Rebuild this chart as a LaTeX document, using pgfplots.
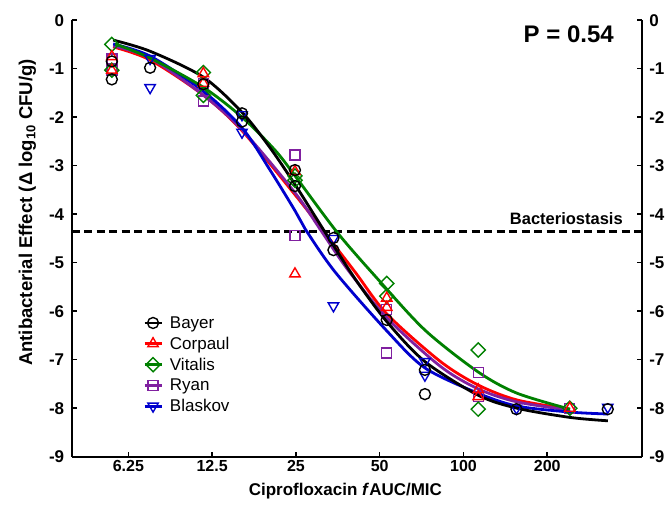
\documentclass[border=0pt]{standalone}
\usepackage{fontspec}
\setmainfont{Liberation Sans}
\usepackage{pgfplots}
\pgfplotsset{compat=1.18}
\definecolor{cRed}{RGB}{255,0,0}
\definecolor{cGreen}{RGB}{0,128,0}
\definecolor{cPurple}{RGB}{128,32,160}
\definecolor{cBlue}{RGB}{0,0,205}

\begin{document}
\begin{tikzpicture}
\begin{axis}[scale only axis, width=570pt, height=436.5pt,
  xmode=log, log basis x=2, xmin=3.91, xmax=437, ymin=-9, ymax=0,
  axis line style={line width=1.8pt},
  tick style={line width=1.5pt, black},
  major tick length=5pt, tick align=inside,
  ytick={-9,-8,-7,-6,-5,-4,-3,-2,-1,0},
  yticklabels={-9,-8,-7,-6,-5,-4,-3,-2,-1,0},
  xticklabel style={font=\bfseries\fontsize{16}{18}\selectfont},
  yticklabel style={font=\bfseries\fontsize{17}{19}\selectfont, xshift=-4pt},
  axis x line*=bottom, axis y line*=left,
  xtick={6.25,12.5,25,50,100,200},
  xticklabels={6.25,12.5,25,50,100,200},
  minor xtick={},
  legend style={at={(0.125,0.3265)}, anchor=north west, draw=none, fill=none,
    font=\fontsize{17}{20}\selectfont, row sep=3.2pt, inner sep=0pt,
    /tikz/every odd column/.append style={column sep=5pt}},
  legend cell align=left,
  legend image code/.code={\draw[mark repeat=2,mark phase=2,#1]
    plot coordinates {(0pt,0pt) (8.5pt,0pt) (17pt,0pt)};},
]
% bacteriostasis
\addplot[black, line width=2.6pt, dash pattern=on 8pt off 4.5pt, forget plot]
  coordinates {(3.91,-4.36) (437,-4.36)};

% fitted curves
\addplot[cRed, line width=2.8pt, smooth, forget plot] coordinates {
  (5.51,-0.55) (7.48,-0.82) (11.59,-1.54) (16.01,-2.28) (24.82,-3.60) (31.81,-4.39)
  (40.76,-5.19) (53.11,-6.06) (82.33,-7.03) (112.7,-7.52) (155.6,-7.83) (241.4,-8.02)};
\addplot[cPurple, line width=2.8pt, smooth, forget plot] coordinates {
  (5.51,-0.53) (7.48,-0.78) (11.59,-1.54) (16.01,-2.26) (24.82,-3.56) (31.03,-4.37)
  (38.47,-5.15) (53.11,-6.14) (82.33,-7.13) (112.7,-7.60) (155.6,-7.87) (241.4,-8.04)};
\addplot[cBlue, line width=2.8pt, smooth, forget plot] coordinates {
  (5.51,-0.49) (7.48,-0.74) (11.59,-1.46) (16.01,-2.22) (20.18,-3.09) (24.82,-3.93)
  (26.96,-4.30) (34.55,-5.19) (53.11,-6.41) (72.73,-7.17) (112.7,-7.69) (155.6,-7.955)
  (241.4,-8.08) (330.4,-8.12)};
\addplot[cGreen, line width=2.8pt, smooth, forget plot] coordinates {
  (5.60,-0.49) (7.48,-0.78) (11.59,-1.38) (16.01,-2.00) (21.03,-2.68) (24.82,-3.21)
  (35.12,-4.37) (48.90,-5.32) (72.73,-6.39) (112.7,-7.25) (155.6,-7.69) (241.4,-8.02)};
\addplot[black, line width=2.8pt, smooth, forget plot] coordinates {
  (5.51,-0.41) (7.48,-0.64) (11.59,-1.17) (16.01,-1.90) (20.18,-2.63) (24.82,-3.39)
  (31.81,-4.37) (40.76,-5.33) (53.11,-6.22) (72.73,-7.04) (112.7,-7.73) (155.6,-8.00)
  (241.4,-8.19) (330.4,-8.26)};

% observations
\addplot[only marks, line width=1.4pt, cPurple, mark=square, mark size=5pt, forget plot] coordinates {
  (5.45,-0.80) (5.45,-1.03) (11.62,-1.30) (11.62,-1.67) (24.8,-2.78) (24.8,-4.44)
  (53,-5.96) (53,-6.86) (113,-7.27) (113,-7.76) (241,-8.00)};
\addplot[only marks, line width=1.4pt, cGreen, mark=square, mark size=5pt, mark options={rotate=45}, forget plot] coordinates {
  (5.45,-0.50) (5.45,-1.03) (11.62,-1.08) (11.62,-1.55) (24.8,-3.21) (24.8,-3.30)
  (53,-5.43) (53,-5.69) (113,-6.80) (113,-8.02) (241,-8.00)};
\addplot[only marks, line width=1.4pt, cRed, mark=triangle, mark size=6pt, forget plot] coordinates {
  (5.45,-0.75) (5.45,-1.03) (11.62,-1.10) (11.62,-1.30) (24.8,-3.12) (24.8,-5.23)
  (53,-5.73) (53,-5.92) (113,-7.62) (113,-7.76) (241,-8.00)};
\addplot[only marks, line width=1.4pt, cBlue, mark=triangle, mark size=6pt, mark options={rotate=180}, forget plot] coordinates {
  (7.48,-0.79) (7.48,-1.39) (16,-1.95) (16,-2.31) (34.1,-4.50) (34.1,-5.89)
  (72.7,-7.04) (72.7,-7.32) (155,-8.00) (330,-7.98)};
\addplot[only marks, line width=1.4pt, black, mark=o, mark size=5.5pt, forget plot] coordinates {
  (5.45,-0.85) (5.45,-1.22) (7.48,-0.98) (11.62,-1.32) (16,-1.92) (16,-2.09)
  (24.8,-3.09) (24.8,-3.42) (34.1,-4.49) (34.1,-4.74) (53,-6.18) (72.7,-7.21)
  (72.7,-7.71) (155,-8.02) (330,-8.02)};

\addlegendimage{black, line width=2.8pt, mark=o, mark options={line width=1.4pt, mark size=5.5pt}}
\addlegendentry{Bayer}
\addlegendimage{cRed, line width=2.8pt, mark=triangle, mark options={line width=1.4pt, mark size=6pt}}
\addlegendentry{Corpaul}
\addlegendimage{cGreen, line width=2.8pt, mark=square, mark options={line width=1.4pt, mark size=5pt, rotate=45}}
\addlegendentry{Vitalis}
\addlegendimage{cPurple, line width=2.8pt, mark=square, mark options={line width=1.4pt, mark size=5pt}}
\addlegendentry{Ryan}
\addlegendimage{cBlue, line width=2.8pt, mark=triangle, mark options={line width=1.4pt, mark size=6pt, rotate=180}}
\addlegendentry{Blaskov}
\end{axis}

\begin{axis}[scale only axis, width=570pt, height=436.5pt,
  xmin=3.91, xmax=437, ymin=-9, ymax=0,
  axis line style={line width=1.8pt},
  tick style={line width=1.5pt, black},
  major tick length=5pt, tick align=inside,
  ytick={-9,-8,-7,-6,-5,-4,-3,-2,-1,0},
  yticklabels={-9,-8,-7,-6,-5,-4,-3,-2,-1,0},
  yticklabel style={font=\bfseries\fontsize{17}{19}\selectfont, xshift=4pt},
  axis x line=none, axis y line*=right, xtick=\empty]
\end{axis}

\node[font=\bfseries\fontsize{24}{28}\selectfont, anchor=east] at (545.6pt,422.4pt) {P = 0.54};
\node[font=\bfseries\fontsize{16.5}{19}\selectfont, anchor=east] at (554.6pt,238.4pt) {Bacteriostasis};
\node[font=\bfseries\fontsize{18.5}{21}\selectfont, rotate=90] at (-44.2pt,244.2pt)
  {Antibacterial Effect (Δ log\textsubscript{10} CFU/g)};
\node[font=\bfseries\fontsize{17}{20}\selectfont] at (273.7pt,-34pt)
  {Ciprofloxacin \textit{f}AUC/MIC};

\pgfresetboundingbox
\path (-71.7pt,-59.3pt) rectangle (599.3pt,456.7pt);
\end{tikzpicture}
\end{document}
